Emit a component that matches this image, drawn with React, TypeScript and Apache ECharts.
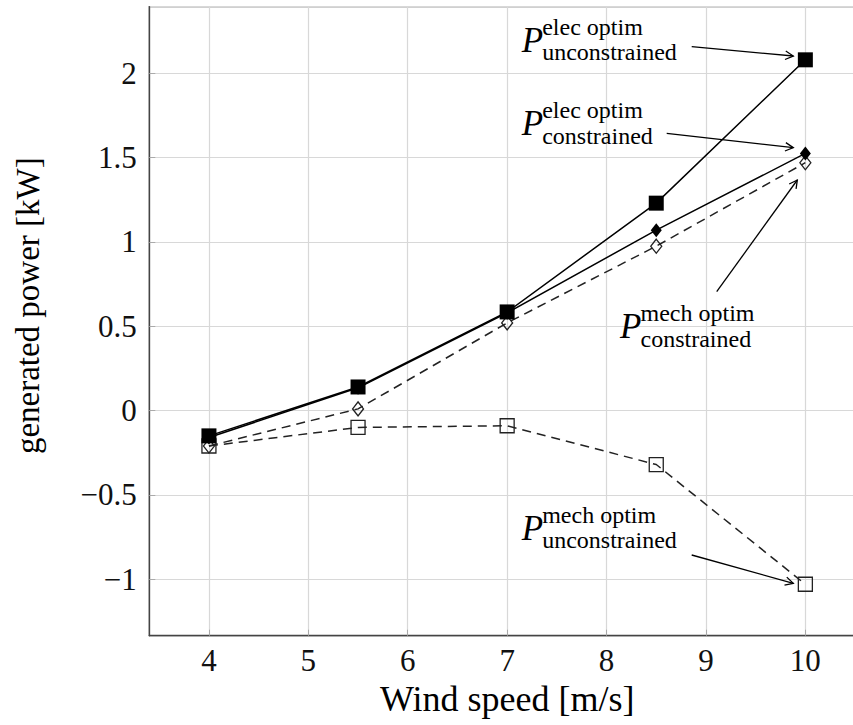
import React, { useEffect, useRef } from "react";
import * as echarts from "echarts";

// ---- data ----
const windSpeed = [4, 5.5, 7, 8.5, 10];
const elecUnconstrained = [-0.15, 0.14, 0.585, 1.23, 2.08];
const elecConstrained = [-0.16, 0.135, 0.58, 1.07, 1.525];
const mechConstrained = [-0.21, 0.01, 0.52, 0.975, 1.47];
const mechUnconstrained = [-0.21, -0.1, -0.09, -0.32, -1.03];

const xTitle = "Wind speed [m/s]";
const yTitle = "generated power [kW]";

// annotation labels: superscript / subscript
const annSup = ["elec optim", "elec optim", "mech optim", "mech optim"];
const annSub = ["unconstrained", "constrained", "constrained", "unconstrained"];

const FONT = "Liberation Serif, Times New Roman, serif";

function pairs(ys: number[]) {
  return windSpeed.map((x, i) => [x, ys[i]]);
}

function arrow(x1: number, y1: number, x2: number, y2: number) {
  const dx = x2 - x1;
  const dy = y2 - y1;
  const len = Math.hypot(dx, dy);
  const ux = dx / len;
  const uy = dy / len;
  const L = 9;
  const th = (28 * Math.PI) / 180;
  const c = Math.cos(th);
  const s = Math.sin(th);
  const ax = x2 - L * (ux * c - uy * s);
  const ay = y2 - L * (ux * s + uy * c);
  const bx = x2 - L * (ux * c + uy * s);
  const by = y2 - L * (-ux * s + uy * c);
  return [
    { type: "line", shape: { x1, y1, x2, y2 }, style: { stroke: "#000", lineWidth: 1.3 }, z: 20 },
    {
      type: "polyline",
      shape: { points: [[ax, ay], [x2, y2], [bx, by]] },
      style: { stroke: "#000", lineWidth: 1.3, fill: "none" },
      z: 20,
    },
  ];
}

function label(px: number, pBase: number, sup: string, sub: string) {
  const central = (fs: number, base: number) => base - 0.3375 * fs;
  return [
    {
      type: "text",
      x: px,
      y: central(35, pBase),
      style: { text: "P", fontFamily: FONT, fontSize: 35, fontStyle: "italic", fill: "#000", textAlign: "left", textVerticalAlign: "middle" },
      z: 20,
    },
    {
      type: "text",
      x: px + 20.5,
      y: central(24, pBase - 17),
      style: { text: sup, fontFamily: FONT, fontSize: 24, fill: "#000", textAlign: "left", textVerticalAlign: "middle" },
      z: 20,
    },
    {
      type: "text",
      x: px + 20.5,
      y: central(24, pBase + 8.5),
      style: { text: sub, fontFamily: FONT, fontSize: 24, fill: "#000", textAlign: "left", textVerticalAlign: "middle" },
      z: 20,
    },
  ];
}

export default function App() {
  const ref = useRef<HTMLDivElement>(null);
  useEffect(() => {
    if (!ref.current) return;
    const chart = echarts.init(ref.current, null, { renderer: "svg" });
    const lineW = 1.5;
    const dashed = [9, 6];
    const option: any = {
      animation: false,
      backgroundColor: "#fff",
      textStyle: { fontFamily: FONT },
      grid: {
        left: 149.3,
        top: 6.7,
        width: 715.7,
        height: 629,
        containLabel: false,
        outerBoundsMode: "none",
        show: true,
        borderColor: "#444",
        borderWidth: 1.3,
      },
      xAxis: {
        type: "value",
        min: 3.4,
        max: 10.6,
        splitNumber: 7,
        name: xTitle,
        nameLocation: "middle",
        nameGap: 43,
        nameTextStyle: { fontSize: 36, color: "#000", fontFamily: FONT },
        axisLine: { show: true, onZero: false, lineStyle: { color: "#444", width: 1.3 } },
        axisTick: { show: true, inside: true, length: 6, lineStyle: { color: "#aaa" } },
        axisLabel: {
          show: true,
          showMinLabel: false,
          showMaxLabel: false,
          fontSize: 31,
          color: "#111",
          margin: 9,
          fontFamily: FONT,
        },
        splitLine: { show: true, lineStyle: { color: "#d8d8d8", width: 1.2 } },
      },
      yAxis: {
        type: "value",
        min: -1.335,
        max: 2.395,
        splitNumber: 7,
        name: yTitle,
        nameLocation: "middle",
        nameRotate: 90,
        nameGap: 105,
        nameTextStyle: { fontSize: 33, color: "#000", fontFamily: FONT, padding: [0, 0, 0, 31] },
        axisLine: { show: true, onZero: false, lineStyle: { color: "#444", width: 1.3 } },
        axisTick: { show: true, inside: true, length: 6, lineStyle: { color: "#aaa" } },
        axisLabel: {
          show: true,
          showMinLabel: false,
          showMaxLabel: false,
          fontSize: 31,
          color: "#111",
          margin: 12.6,
          fontFamily: FONT,
          formatter: (v: number) => (v < 0 ? "\u2212" + String(Math.abs(v)) : String(v)),
        },
        splitLine: { show: true, lineStyle: { color: "#d8d8d8", width: 1.2 } },
      },
      series: [
        {
          name: "P mech optim unconstrained",
          type: "line",
          data: pairs(mechUnconstrained),
          symbol: "rect",
          symbolSize: 14,
          z: 3,
          lineStyle: { color: "#222", width: lineW, type: dashed },
          itemStyle: { color: "rgba(0,0,0,0)", borderColor: "#222", borderWidth: 1.3 },
        },
        {
          name: "P mech optim constrained",
          type: "line",
          data: pairs(mechConstrained),
          symbol: "diamond",
          symbolSize: [11, 14],
          z: 4,
          lineStyle: { color: "#222", width: lineW, type: dashed },
          itemStyle: { color: "rgba(0,0,0,0)", borderColor: "#222", borderWidth: 1.3 },
        },
        {
          name: "P elec optim constrained",
          type: "line",
          data: pairs(elecConstrained),
          symbol: "diamond",
          symbolSize: [11, 14],
          z: 5,
          lineStyle: { color: "#000", width: lineW },
          itemStyle: { color: "#000" },
        },
        {
          name: "P elec optim unconstrained",
          type: "line",
          data: pairs(elecUnconstrained),
          symbol: "rect",
          symbolSize: 15,
          z: 6,
          lineStyle: { color: "#000", width: lineW },
          itemStyle: { color: "#000" },
        },
      ],
      graphic: [
        ...label(521.7, 52, annSup[0], annSub[0]),
        ...arrow(691.7, 46.7, 793.3, 56),
        ...label(521.7, 135.5, annSup[1], annSub[1]),
        ...arrow(666.7, 133.3, 793.3, 147.7),
        ...label(620, 338.5, annSup[2], annSub[2]),
        ...arrow(716.7, 291.7, 797.3, 180),
        ...label(521.7, 540, annSup[3], annSub[3]),
        ...arrow(691.7, 555, 793.3, 583.3),
      ],
    };
    chart.setOption(option);
    return () => chart.dispose();
  }, []);
  return (
    <div
      ref={ref}
      style={{ position: "fixed", left: 0, top: 0, width: 853, height: 725, background: "#fff" }}
    />
  );
}
